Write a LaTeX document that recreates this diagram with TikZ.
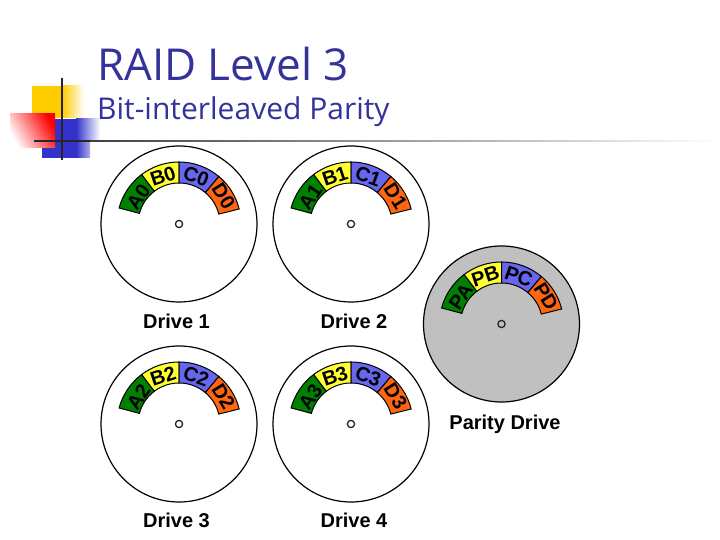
\documentclass[tikz,border=0pt]{standalone}
\usepackage{fontspec}
\setmainfont{Liberation Sans}
\newfontfamily\titlefont{Open Sans}
\usetikzlibrary{calc}
\definecolor{titleblue}{HTML}{333399}
\definecolor{diskgray}{HTML}{C0C0C0}
\definecolor{secgreen}{HTML}{008000}
\definecolor{secyellow}{HTML}{FFFF33}
\definecolor{secblue}{HTML}{6666EE}
\definecolor{secorange}{HTML}{FF6611}
\definecolor{decoyellow}{HTML}{FFCC00}
\definecolor{decoblue}{HTML}{3333CC}
\newcommand{\sector}[7]{% centre, from, to, colour, label, node name, label radius
  \draw[seg,fill=#4] ($(#1)+(#2:62)$) arc[start angle=#2,end angle=#3,radius=62]
    -- ($(#1)+(#3:41)$) arc[start angle=#3,end angle=#2,radius=41] -- cycle;
  \pgfmathsetmacro{\midang}{(#2+#3)/2}
  \node[seclabel,rotate=\midang-90] (#6) at ($(#1)+(\midang:#7)$) {#5};
}
\newcommand{\drive}[8]{% name, x, y, fill, A, B, C, D labels
  \coordinate (#1) at (#2,#3);
  \draw[disk,fill=#4] (#1) circle[radius=78];
  \draw[hub,fill=#4] (#1) circle[radius=3.6];
  \sector{#1}{165}{127}{secgreen}{#5}{#1a}{49}
  \sector{#1}{127}{90}{secyellow}{#6}{#1b}{50.5}
  \sector{#1}{90}{50}{secblue}{#7}{#1c}{50.5}
  \sector{#1}{50}{14}{secorange}{#8}{#1d}{52.5}
}
\begin{document}
\begin{tikzpicture}[x=1pt,y=1pt,
  disk/.style={draw=black,line width=1.2pt},
  hub/.style={draw=black!85,line width=1.3pt},
  seg/.style={draw=black,line width=1pt},
  seclabel/.style={font=\bfseries\fontsize{20}{20}\selectfont,inner sep=0pt},
  drivelabel/.style={font=\bfseries\fontsize{20}{20}\selectfont,inner sep=0pt}]
\useasboundingbox[fill=white] (0,0) rectangle (720,540);
% corner decoration
\fill[decoyellow] (32,454) rectangle (62,422);
\shade[left color=decoyellow,right color=white] (62,454) rectangle (84,422);
\fill[decoblue] (42,421) rectangle (76,382);
\shade[left color=decoblue,right color=white] (76,421) rectangle (100,399);
\shade[left color=decoblue,right color=decoblue!40] (76,399) rectangle (90,382);
\shade[top color=red,bottom color=white,shading angle=-60] (10,426) rectangle (55,392);
\draw[black!85,line width=2pt] (61.5,462) -- (61.5,380);
\draw[black!85,line width=1.8pt] (34,399) -- (90,399);
\shade[left color=black!75,right color=white] (90,398.3) rectangle (720,399.7);
% title
\node[font=\titlefont\fontsize{44}{44}\selectfont,text=titleblue,anchor=base west,inner sep=0pt] (title) at (97,459) {RAID Level 3};
\node[font=\titlefont\fontsize{30}{30}\selectfont,text=titleblue,anchor=base west,inner sep=0pt] (subtitle) at (97,420) {Bit-interleaved Parity};
% drives
\drive{drvone}{179}{316}{white}{A0}{B0}{C0}{D0}
\drive{drvtwo}{351}{316}{white}{A1}{B1}{C1}{D1}
\drive{drvthree}{179}{116}{white}{A2}{B2}{C2}{D2}
\drive{drvpar}{501.5}{216}{diskgray}{PA}{PB}{PC}{PD}
\drive{drvfour}{351}{116}{white}{A3}{B3}{C3}{D3}
\node[drivelabel] (lblone) at (176.5,218.5) {Drive 1};
\node[drivelabel] (lbltwo) at (354,218.5) {Drive 2};
\node[drivelabel] (lblthree) at (176.5,19.5) {Drive 3};
\node[drivelabel] (lblfour) at (354,19.5) {Drive 4};
\node[drivelabel] (lblpar) at (505,116) {Parity Drive};
\end{tikzpicture}
\end{document}
